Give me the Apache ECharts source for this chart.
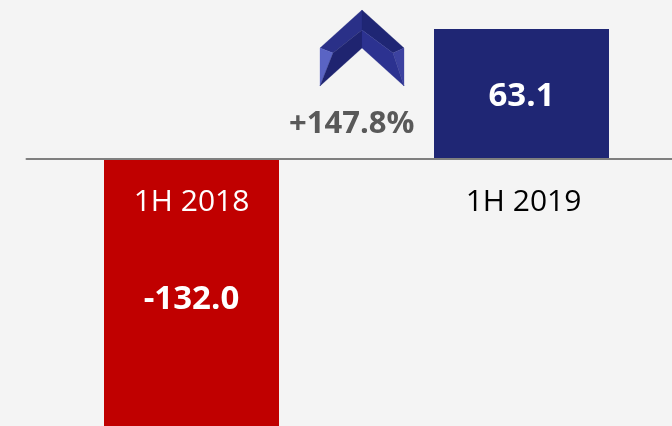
<!DOCTYPE html>
<html><head><meta charset="utf-8">
<style>html,body{margin:0;padding:0;background:#f4f4f4}#c{width:672px;height:426px}</style>
<script src="https://cdn.jsdelivr.net/npm/echarts@6/dist/echarts.min.js"></script>
</head><body><div id="c"></div>
<script>
const categories = ['1H 2018', '1H 2019'];
const values = [-132.0, 63.1];
const barColors = ['#c00000', '#1f2674'];
const categoryLabelColors = ['#ffffff', '#000000'];
const changeLabel = '+147.8%';
const FONT = '"Open Sans","Noto Sans",sans-serif';

const chart = echarts.init(document.getElementById('c'), null, {renderer:'canvas'});
const facet = (points, fill) => ({type:'polygon', shape:{points}, style:{fill, stroke:fill, lineWidth:0.3}, silent:true});
chart.setOption({
  animation:false,
  backgroundColor:'#f4f4f4',
  grid:{left:26.5, top:14.8, width:660, height:432.6, containLabel:false, outerBoundsMode:'none'},
  xAxis:{type:'category', position:'bottom', offset:-288.4,
    data:categories.map((c,i)=>({value:c, textStyle:{color:categoryLabelColors[i], padding:i===1?[0,0,0,4]:0}})),
    axisLine:{show:true, onZero:false, lineStyle:{color:'#7f7f7f', width:2}},
    axisTick:{show:false},
    z:5,
    axisLabel:{fontFamily:FONT, fontSize:30, margin:28, interval:0, hideOverlap:false}},
  yAxis:{type:'value', min:-140, max:70, show:false, splitLine:{show:false}},
  series:[{type:'bar', barWidth:175, z:1,
    data:values.map((v,i)=>({value:v, itemStyle:{color:barColors[i]},
      label:{offset:i===0?[0,5]:[0,3]}})),
    label:{show:true, position:'inside', color:'#fff', fontFamily:FONT, fontWeight:'bold', fontSize:33,
      formatter:p=>p.value.toFixed(1)}}],
  graphic:[
    {type:'text', left:289, top:109, z:10, silent:true,
     style:{text:changeLabel, fill:'#595959', font:'bold 31px "Open Sans","Noto Sans",sans-serif'}},
    facet([[362,10],[320,48],[333,53],[362,30]], '#2a3088'),
    facet([[362,10],[404,48],[393,53],[362,30]], '#1f2674'),
    facet([[320,48],[320,86],[333,53]], '#5a64c4'),
    facet([[404,48],[404,86],[393,53]], '#3c42a0'),
    facet([[320,86],[362,48],[362,30],[333,53]], '#1f2470'),
    facet([[404,86],[362,48],[362,30],[393,53]], '#2c3290')
  ]
});
</script></body></html>
